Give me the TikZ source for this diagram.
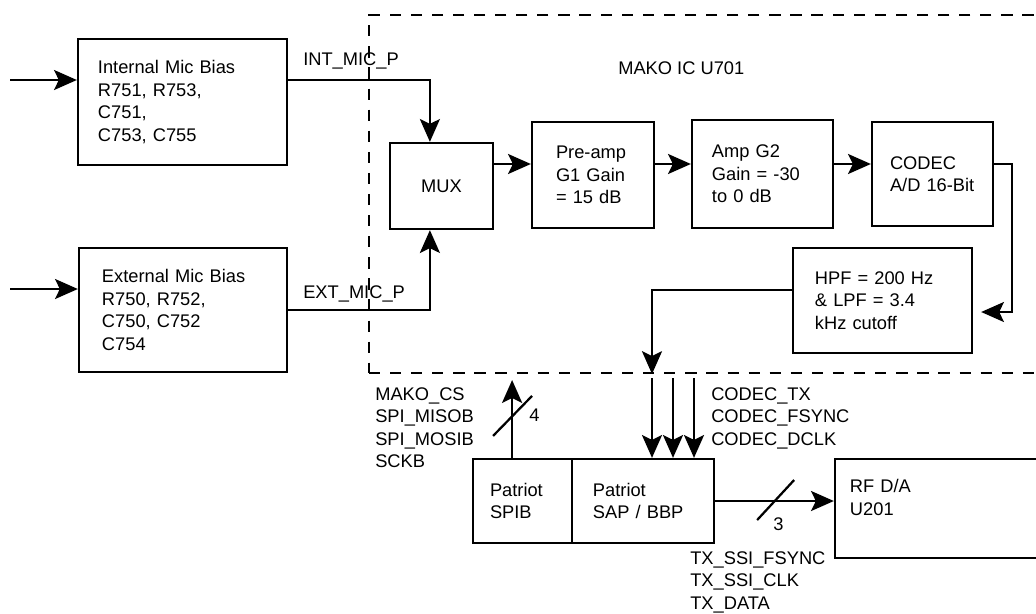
\documentclass[tikz,border=0pt]{standalone}
\usepackage{fontspec}
\setmainfont{Liberation Sans}
\usetikzlibrary{arrows.meta,positioning}

\begin{document}
\begin{tikzpicture}[
    x=0.025cm, y=-0.025cm,
    font=\fontsize{13}{16}\selectfont,
    blk/.style={
      draw,
      line width=1.6pt,
      inner xsep=0.5cm,
      inner ysep=0pt,
      align=left
    },
    chip/.style={
      draw,
      line width=1.4pt,
      dash pattern=on 8pt off 7pt,
      minimum width=17.275cm,
      minimum height=8.95cm
    },
    arr/.style={
      -{Stealth[length=0.57cm,width=0.5cm,inset=0.12cm]},
      line width=1.6pt
    },
    wire/.style={
      line width=1.6pt
    },
    lbl/.style={
      inner sep=0pt,
      align=left,
      anchor=north west
    }
  ]

  \useasboundingbox (0,0) rectangle (1036,613);
  \fill[white] (0,0) rectangle (1036,613);
  \clip (0,0) rectangle (1036,613);

  % Codec chip frame
  \node[chip] (ic) at (714.5,194) {};
  \node[lbl] (iclbl) at (618,61) {MAKO IC U701};

  % Bias networks
  \node[blk, minimum width=5.225cm, minimum height=3.15cm, text width=4.225cm]
    (intbias) at (182.5,102) {Internal Mic Bias\\R751, R753,\\C751,\\C753, C755};
  \node[blk, minimum width=5.2cm, minimum height=3.1cm, inner xsep=0.575cm, text width=4.05cm]
    (extbias) at (183,310) {External Mic Bias\\R750, R752,\\C750, C752\\C754};

  % Signal chain
  \node[blk, minimum width=2.575cm, minimum height=2.15cm, align=center] (mux) at (441.5,186) {MUX};
  \node[blk, minimum width=3.05cm, minimum height=2.65cm, inner xsep=0.6cm, text width=1.85cm]
    (preamp) at (593,175) {Pre-amp\\G1 Gain\\= 15 dB};
  \node[blk, minimum width=3.525cm, minimum height=2.7cm, text width=2.525cm]
    (amp) at (762.5,174) {Amp G2\\Gain = -30\\to 0 dB};
  \node[blk, minimum width=3.025cm, minimum height=2.6cm, inner xsep=0.45cm, text width=2.125cm]
    (codec) at (932.5,174) {CODEC\\A/D 16-Bit};
  \node[blk, minimum width=4.475cm, minimum height=2.625cm, inner xsep=0.55cm, text width=3.375cm]
    (hpf) at (882.5,300.5) {HPF = 200 Hz\\\& LPF = 3.4\\kHz cutoff};

  % Baseband and RF
  \node[blk, minimum width=2.475cm, minimum height=2.1cm, inner xsep=0.425cm, text width=1.625cm]
    (spib) at (522.5,501) {Patriot\\SPIB};
  \node[blk, minimum width=3.55cm, minimum height=2.1cm, inner xsep=0.525cm, text width=2.5cm]
    (sap) at (643,501) {Patriot\\SAP / BBP};
  \node[blk, minimum width=5.625cm, minimum height=2.475cm, inner xsep=0.375cm, text width=4.875cm]
    (rf) at (947.5,508.5) {RF D/A\\U201\\\mbox{}};

  % Inputs to bias networks
  \coordinate (inint) at (10,80);
  \coordinate (inext) at (10,289);
  \draw[arr] (inint) -- (inint -| intbias.west);
  \draw[arr] (inext) -- (inext -| extbias.west);

  % Mic lines into the mux
  \coordinate (muxtop) at ([xshift=-0.29cm]mux.north);
  \coordinate (muxbot) at ([xshift=-0.29cm]mux.south);
  \draw[arr] (inint -| intbias.east) -| (muxtop);
  \draw[arr] (extbias.east) -| (muxbot);
  \node[lbl] (intlbl) at (303,52) {INT\_MIC\_P};
  \node[lbl] (extlbl) at (303,285) {EXT\_MIC\_P};

  % Through the amplifiers and codec
  \coordinate (chain) at ([yshift=0.55cm]mux.east);
  \draw[arr] (chain) -- (chain -| preamp.west);
  \draw[arr] (chain -| preamp.east) -- (chain -| amp.west);
  \draw[arr] (chain -| amp.east) -- (chain -| codec.west);
  \coordinate (rloop) at (1012,312);
  \draw[arr, shorten >=0.2cm] (chain -| codec.east) -| (rloop) -- (rloop -| hpf.east);

  % Filter output leaves the chip
  \coordinate (hout) at (652,290);
  \draw[arr] (hout -| hpf.west) -- (hout) -- (hout |- ic.south);

  % Codec serial lines
  \foreach \xx in {652,673,694}
    \draw[arr] (\xx,378) -- (\xx,378 |- sap.north);
  \node[lbl] (codeclbl) at (711,387) {CODEC\_TX\\CODEC\_FSYNC\\CODEC\_DCLK};

  % SPI bus
  \coordinate (spiup) at ([xshift=-0.26cm]spib.north);
  \draw[arr, shorten >=0.15cm] (spiup) -- (spiup |- ic.south);
  \draw[wire] ([shift={(-19,-22)}]spiup) -- ++(39,-40);
  \node[lbl] (spin) at ([shift={(17,-49)}]spiup) {4};
  \node[lbl] (spilbl) at (375,387) {MAKO\_CS\\SPI\_MISOB\\SPI\_MOSIB\\SCKB};

  % Transmit bus
  \draw[arr] (sap.east) -- (sap.east -| rf.west);
  \draw[wire] ([shift={(42,19)}]sap.east) -- ++(37,-40);
  \node[lbl] (txn) at ([shift={(58,16)}]sap.east) {3};
  \node[lbl] (txlbl) at (690,551) {TX\_SSI\_FSYNC\\TX\_SSI\_CLK\\TX\_DATA};

\end{tikzpicture}
\end{document}
